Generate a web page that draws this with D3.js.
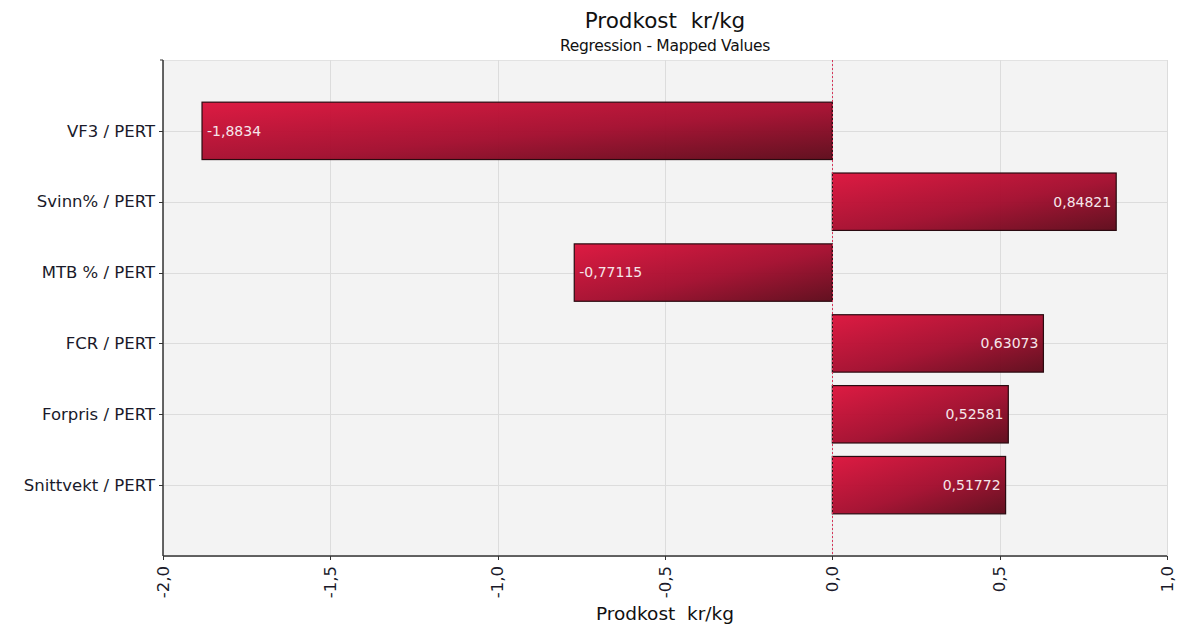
<!DOCTYPE html>
<html>
<head>
<meta charset="utf-8">
<script src="https://cdn.jsdelivr.net/npm/d3@7"></script>
<style>
	body { margin: 0; background: #fff; }
	text { font-family: "DejaVu Sans", sans-serif; white-space: pre; }
</style>
</head>
<body>
<svg id="svg" width="1189" height="626"></svg>
<script>
// chart values
var categories = ["VF3 / PERT", "Svinn% / PERT", "MTB % / PERT", "FCR / PERT", "Forpris / PERT", "Snittvekt / PERT"];
var values = [-1.8834, 0.84821, -0.77115, 0.63073, 0.52581, 0.51772];
var xTicks = [-2.0, -1.5, -1.0, -0.5, 0.0, 0.5, 1.0];

var chartTitle = "Prodkost  kr/kg",
	chartSubtitle = "Regression - Mapped Values",
	xTitle = "Prodkost  kr/kg";

var svg = d3.select('#svg'),
	plot = { left: 163, right: 1167, top: 60, bottom: 556 };

var commaFmt = function(v, digits){
	var s = digits === undefined ? String(v) : v.toFixed(digits);
	return s.replace('.', ',');
};

var x = d3.scaleLinear().domain([-2, 1]).range([plot.left, plot.right]);
// categories sit at 1..n inside 0..n+1
var y = d3.scaleLinear().domain([0, categories.length + 1]).range([plot.top, plot.bottom]);
var band = y(1) - y(0),
	barH = band * 0.81;
var crisp = function(v){ return Math.round(v) + 0.5; };

var defs = svg.append('defs');
var grad = defs.append('linearGradient')
	.attr('id', 'barGrad')
	.attr('x1', 0).attr('y1', 0).attr('x2', 1).attr('y2', 1);
grad.append('stop').attr('offset', '0%').attr('stop-color', '#dc123b');
grad.append('stop').attr('offset', '55%').attr('stop-color', '#a30c2d');
grad.append('stop').attr('offset', '100%').attr('stop-color', '#5c0818');

// plot background
svg.append('rect')
	.attr('x', plot.left + 0.5).attr('y', plot.top + 0.5)
	.attr('width', plot.right - plot.left).attr('height', plot.bottom - plot.top)
	.attr('fill', '#f3f3f3')
	.attr('stroke', '#e2e2e2');

var grid = svg.append('g');
grid.selectAll('line.v')
	.data(xTicks.slice(1))
	.enter()
	.append('line')
	.attr('class', 'v')
	.attr('x1', function(d){ return crisp(x(d)); })
	.attr('x2', function(d){ return crisp(x(d)); })
	.attr('y1', plot.top).attr('y2', plot.bottom)
	.style('stroke', '#dcdcdc');

grid.selectAll('line.h')
	.data(categories)
	.enter()
	.append('line')
	.attr('class', 'h')
	.attr('x1', plot.left).attr('x2', plot.right)
	.attr('y1', function(d, i){ return crisp(y(i + 1)); })
	.attr('y2', function(d, i){ return crisp(y(i + 1)); })
	.style('stroke', '#dcdcdc');

// bars
var bars = svg.append('g');
bars.selectAll('rect')
	.data(values)
	.enter()
	.append('rect')
	.attr('x', function(d){ return x(Math.min(0, d)); })
	.attr('y', function(d, i){ return y(i + 1) - barH / 2; })
	.attr('width', function(d){ return Math.abs(x(d) - x(0)); })
	.attr('height', barH)
	.attr('fill', 'url(#barGrad)')
	.attr('fill-opacity', 0.96)
	.attr('stroke', '#2a0a10')
	.attr('stroke-width', 1.2);

bars.selectAll('text')
	.data(values)
	.enter()
	.append('text')
	.attr('x', function(d){ return d < 0 ? x(d) + 5 : x(d) - 5; })
	.attr('y', function(d, i){ return y(i + 1); })
	.attr('dy', '0.35em')
	.attr('text-anchor', function(d){ return d < 0 ? 'start' : 'end'; })
	.style('font-size', '14px')
	.style('fill', '#f6e6ea')
	.text(function(d){ return commaFmt(d); });

// zero line
svg.append('line')
	.attr('x1', crisp(x(0))).attr('x2', crisp(x(0)))
	.attr('y1', plot.top).attr('y2', plot.bottom)
	.style('stroke', '#d6365a')
	.style('stroke-dasharray', '2,2');

// y axis
var yAxis = svg.append('g');
yAxis.append('line')
	.attr('x1', plot.left).attr('x2', plot.left)
	.attr('y1', plot.top).attr('y2', plot.bottom)
	.style('stroke', '#333').style('stroke-width', 1.5);
yAxis.append('line')
	.attr('x1', plot.left - 3).attr('x2', plot.left)
	.attr('y1', plot.top).attr('y2', plot.top)
	.style('stroke', '#333');
yAxis.selectAll('line.tick')
	.data(categories)
	.enter()
	.append('line')
	.attr('class', 'tick')
	.attr('x1', plot.left - 4).attr('x2', plot.left)
	.attr('y1', function(d, i){ return crisp(y(i + 1)); })
	.attr('y2', function(d, i){ return crisp(y(i + 1)); })
	.style('stroke', '#333');
yAxis.selectAll('text')
	.data(categories)
	.enter()
	.append('text')
	.attr('x', plot.left - 8)
	.attr('y', function(d, i){ return y(i + 1); })
	.attr('dy', '0.35em')
	.attr('text-anchor', 'end')
	.style('font-size', '16.5px')
	.style('fill', '#1a1a2a')
	.text(function(d){ return d; });

// x axis
var xAxis = svg.append('g');
xAxis.append('line')
	.attr('x1', plot.left).attr('x2', plot.right)
	.attr('y1', plot.bottom).attr('y2', plot.bottom)
	.style('stroke', '#333').style('stroke-width', 1.5);
xAxis.selectAll('line.tick')
	.data(xTicks)
	.enter()
	.append('line')
	.attr('class', 'tick')
	.attr('x1', function(d){ return crisp(x(d)); })
	.attr('x2', function(d){ return crisp(x(d)); })
	.attr('y1', plot.bottom).attr('y2', plot.bottom + 4)
	.style('stroke', '#333');
xAxis.selectAll('text')
	.data(xTicks)
	.enter()
	.append('text')
	.attr('transform', function(d){ return 'translate(' + x(d) + ',' + (plot.bottom + 10) + ') rotate(-90)'; })
	.attr('dy', '0.35em')
	.attr('text-anchor', 'end')
	.style('font-size', '16.5px')
	.style('fill', '#1a1a2a')
	.text(function(d){ return commaFmt(d, 1); });

// titles
svg.append('text')
	.attr('x', 665).attr('y', 28)
	.attr('text-anchor', 'middle')
	.style('font-size', '21.5px')
	.style('fill', '#111')
	.text(chartTitle);
svg.append('text')
	.attr('x', 665).attr('y', 51)
	.attr('text-anchor', 'middle')
	.style('font-size', '15.5px')
	.style('letter-spacing', '-0.3px')
	.style('fill', '#111')
	.text(chartSubtitle);
svg.append('text')
	.attr('x', 665).attr('y', 620)
	.attr('text-anchor', 'middle')
	.style('font-size', '18.5px')
	.style('fill', '#111')
	.text(xTitle);
</script>
</body>
</html>
